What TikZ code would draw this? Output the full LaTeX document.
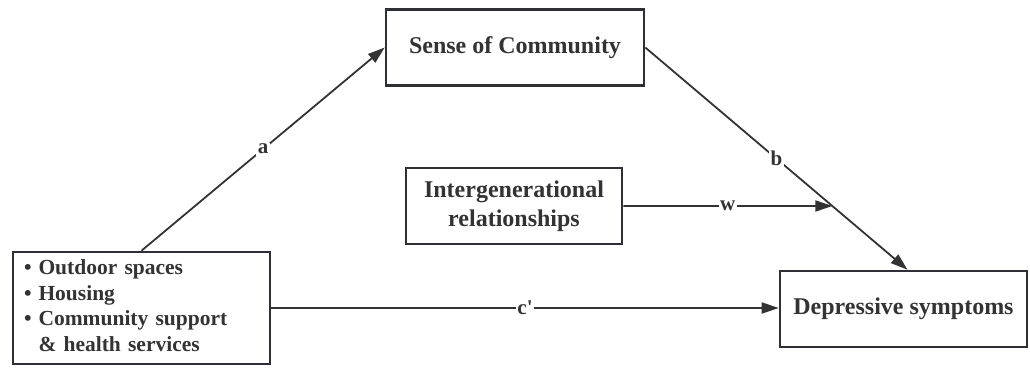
\documentclass[tikz,border=0pt]{standalone}
\usepackage{fontspec}
\setmainfont{Liberation Serif}
\usetikzlibrary{arrows.meta,calc,intersections}
\definecolor{ink}{HTML}{333333}
\definecolor{frame}{HTML}{2E3036}
\begin{document}
\begin{tikzpicture}[x=1pt,y=-1pt,
  box/.style={draw=frame, line width=2.6pt, fill=white, inner sep=0pt,
    font=\bfseries\fontsize{24}{29}\selectfont, text=ink, align=center},
  link/.style={draw=ink, line width=1.8pt, -{Triangle[length=17pt,width=11pt]}},
  lab/.style={fill=white, inner sep=1.5pt, font=\bfseries\fontsize{21}{24}\selectfont, text=ink}]
\useasboundingbox (0,0) rectangle (1030,367);

% boxes
\node[box, minimum width=258pt, minimum height=76pt] (sc) at (515,47.5) {Sense of Community};
\node[box, minimum width=216pt, minimum height=76pt] (ig) at (514,206) {Intergenerational\\relationships};
\node[box, minimum width=247pt, minimum height=76pt] (ds) at (903.5,309) {Depressive symptoms};
\node[box, minimum width=257pt, minimum height=112pt, text width=241pt, align=left,
      font=\bfseries\fontsize{21.5}{25.5}\selectfont] (env) at (141.5,308)
  {\begin{tabular}{@{\hspace{3pt}}l@{\hspace{7pt}}l@{}}
   \textbullet & Outdoor spaces\\
   \textbullet & Housing\\
   \textbullet & Community support\\
               & \& health services
   \end{tabular}};

% paths
\draw[link] (env.north) -- node[lab]{a} (sc.west);
\draw[link, name path=bline] (sc.east) -- node[lab]{b} ([xshift=4pt]ds.north);
\path[name path=wline] (ig.east) -- ++(400,0);
\path[name intersections={of=bline and wline, by={wtip}}];
\draw[link] (ig.east) -- node[lab]{w} (wtip);
\draw[link] (env.east) -- node[lab]{c\textquotesingle} (env.east -| ds.west);
\end{tikzpicture}
\end{document}
